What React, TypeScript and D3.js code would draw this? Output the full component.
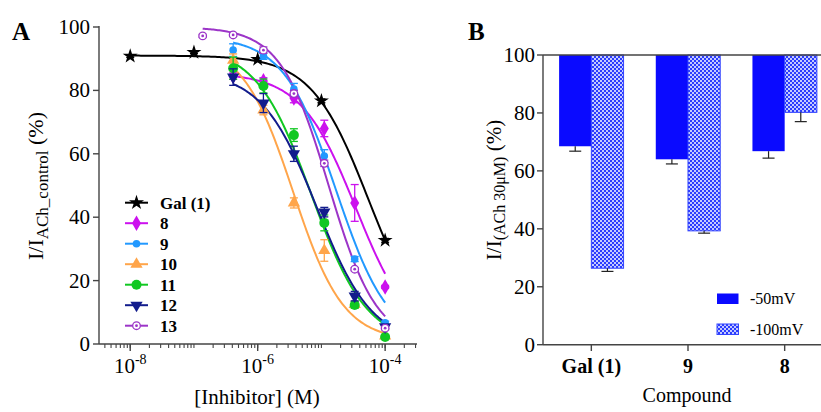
import React from 'react'
import * as d3 from 'd3'

// panel A: concentration-response data (mean and SEM, % of ACh control)
const galConc = [1e-8, 1e-7, 1e-6, 1e-5, 1e-4]
const dilConc = [4.12e-7, 1.23e-6, 3.7e-6, 1.11e-5, 3.33e-5, 1e-4]
const conc13 = [1.37e-7, 4.12e-7, 1.23e-6, 3.7e-6, 1.11e-5, 3.33e-5, 1e-4]

const compounds = ['Gal (1)', '8', '9', '10', '11', '12', '13']
const colors = ['#000000', '#cc11ee', '#2299ff', '#ffa54a', '#11c822', '#121c8c', '#9c35c8']
const symbols = ['star', 'diamond', 'dot', 'triUp', 'circle', 'triDown', 'ring']

const meanGal = [90.8, 92, 89.8, 76.7, 32.7]
const mean8 = [84.5, 83, 77.6, 68, 44.5, 18]
const mean9 = [92.7, 90.8, 80.4, 59.3, 26.8, 6.7]
const mean10 = [89.5, 73.8, 44.5, 29.5, 12.5, 2.5]
const mean11 = [87, 81.4, 65.9, 38.2, 12.3, 2.2]
const mean12 = [84.2, 76, 60, 41.6, 15.1, 5.4]
const mean13 = [97.2, 97.5, 92.7, 79, 57, 23.6, 5]

const semGal = [0.4, 0.4, 0.4, 0.6, 0.6]
const sem8 = [1, 1, 1.5, 2.6, 5.8, 0.5]
const sem9 = [2, 1, 1.8, 2, 0.8, 0.5]
const sem10 = [2, 1.5, 1.6, 3.4, 1, 0.5]
const sem11 = [3.5, 2.2, 2, 2.5, 1, 0.5]
const sem12 = [2.6, 3, 2.4, 1.5, 1.5, 0.5]
const sem13 = [0.5, 0.5, 1, 1, 1, 0.5, 0.5]

// fitted curve parameters: top, bottom, IC50 (M), hill slope
const fitTop = [91, 85.5, 97, 95, 94, 86, 100]
const fitBottom = [0, 0, 0, 1, 0, 0, 0]
const fitIC50 = [5.5e-5, 3.5e-5, 1.7e-5, 3.6e-6, 7e-6, 8.5e-6, 1.3e-5]
const fitHill = [0.97, 1.0, 1.05, 1.1, 1.0, 1.0, 1.15]

const concs = [galConc, dilConc, dilConc, dilConc, dilConc, dilConc, conc13]
const means = [meanGal, mean8, mean9, mean10, mean11, mean12, mean13]
const sems = [semGal, sem8, sem9, sem10, sem11, sem12, sem13]

const xTicksA = [1e-8, 1e-6, 1e-4]
const xTickExp = ['-8', '-6', '-4']
const yTicks = [0, 20, 40, 60, 80, 100]

// panel B: bars hanging from 100 %
const categoriesB = ['Gal (1)', '9', '8']
const seriesB = ['-50mV', '-100mV']
const value50 = [68.5, 64, 66.8]
const value100 = [26.4, 39.3, 80.2]
const err50 = [1.7, 1.6, 2.4]
const err100 = [1.1, 0.8, 3.2]

const font = '"Liberation Serif", "Times New Roman", serif'
const axisColor = '#444'

function Marker({ type, x, y, color }) {
  if (type === 'circle') return <circle cx={x} cy={y} r={5} fill={color} />
  if (type === 'dot') return <circle cx={x} cy={y} r={3.8} fill={color} />
  if (type === 'ring')
    return (
      <g>
        <circle cx={x} cy={y} r={3.8} fill="#fff" stroke={color} strokeWidth={1.3} />
        <circle cx={x} cy={y} r={1.4} fill={color} />
      </g>
    )
  let sym = d3.symbolStar
  let size = 70
  let rot = 0
  if (type === 'diamond') { sym = d3.symbolDiamond; size = 70 }
  if (type === 'triUp') { sym = d3.symbolTriangle; size = 65 }
  if (type === 'triDown') { sym = d3.symbolTriangle; size = 65; rot = 180 }
  const d = d3.symbol().type(sym).size(size)()
  return <path d={d} fill={color} transform={`translate(${x},${y}) rotate(${rot})`} />
}

function PanelA() {
  const x = d3.scaleLog().domain([Math.pow(10, -8.49), Math.pow(10, -3.5)]).range([99, 417])
  const y = d3.scaleLinear().domain([0, 100]).range([344, 27])

  const line = d3.line().x(d => x(d[0])).y(d => y(d[1]))

  const minorTicks = []
  for (let e = -9; e <= -4; e++) {
    for (let m = 1; m < 10; m++) {
      const v = m * Math.pow(10, e)
      if (v >= x.domain()[0] && v <= x.domain()[1]) minorTicks.push(v)
    }
  }

  const curves = compounds.map((c, i) => {
    const lo = Math.log10(concs[i][0])
    const hi = Math.log10(concs[i][concs[i].length - 1])
    const pts = d3.range(0, 121).map(k => {
      const c0 = Math.pow(10, lo + (hi - lo) * k / 120)
      const v = fitBottom[i] + (fitTop[i] - fitBottom[i]) / (1 + Math.pow(c0 / fitIC50[i], fitHill[i]))
      return [c0, v]
    })
    return <path key={c} d={line(pts)} fill="none" stroke={colors[i]} strokeWidth={2} />
  })

  return (
    <g>
      <text x={12} y={40} fontSize={25} fontWeight="bold">A</text>

      {/* axes */}
      <line x1={99} x2={99} y1={26} y2={344} stroke={axisColor} strokeWidth={1.4} />
      <line x1={99} x2={417} y1={344} y2={344} stroke={axisColor} strokeWidth={1.4} />
      {yTicks.map(t => (
        <g key={t}>
          <line x1={93} x2={99} y1={y(t)} y2={y(t)} stroke={axisColor} strokeWidth={1.4} />
          <text x={90} y={y(t) + 7} fontSize={21} textAnchor="end">{t}</text>
        </g>
      ))}
      {minorTicks.map((t, i) => (
        <line key={i} x1={x(t)} x2={x(t)} y1={344} y2={348} stroke={axisColor} strokeWidth={1.1} />
      ))}
      {xTicksA.map((t, i) => (
        <g key={t}>
          <line x1={x(t)} x2={x(t)} y1={344} y2={351} stroke={axisColor} strokeWidth={1.4} />
          <text x={x(t)} y={373} fontSize={21} textAnchor="middle">
            10<tspan fontSize={14} dy={-9}>{xTickExp[i]}</tspan>
          </text>
        </g>
      ))}
      <text x={257} y={404} fontSize={21} textAnchor="middle">[Inhibitor] (M)</text>
      <text transform="translate(43,186) rotate(-90)" fontSize={22} textAnchor="middle">
        I/I<tspan fontSize={17} dy={5}>ACh_control</tspan><tspan dy={-5}> (%)</tspan>
      </text>

      {curves}

      {/* error bars and points */}
      {compounds.map((c, i) => (
        <g key={c}>
          {concs[i].map((cc, j) => {
            const px = x(cc)
            const e = sems[i][j]
            return (
              <g key={j}>
                <line x1={px} x2={px} y1={y(means[i][j] + e)} y2={y(means[i][j] - e)} stroke={colors[i]} strokeWidth={1.3} />
                <line x1={px - 4} x2={px + 4} y1={y(means[i][j] + e)} y2={y(means[i][j] + e)} stroke={colors[i]} strokeWidth={1.3} />
                <line x1={px - 4} x2={px + 4} y1={y(means[i][j] - e)} y2={y(means[i][j] - e)} stroke={colors[i]} strokeWidth={1.3} />
                <Marker type={symbols[i]} x={px} y={y(means[i][j])} color={colors[i]} />
              </g>
            )
          })}
        </g>
      ))}

      {/* legend */}
      {compounds.map((c, i) => {
        const ly = 202.7 + i * 20.5
        return (
          <g key={c}>
            <line x1={125} x2={148} y1={ly} y2={ly} stroke={colors[i]} strokeWidth={2} />
            <Marker type={symbols[i]} x={136.5} y={ly} color={colors[i]} />
            <text x={160} y={ly + 6} fontSize={17} fontWeight="bold">{c}</text>
          </g>
        )
      })}
    </g>
  )
}

function PanelB() {
  const x = d3.scaleBand().domain(categoriesB).range([543, 833]).padding(0)
  const xs = d3.scaleBand().domain(seriesB).range([0, x.bandwidth()]).paddingInner(0).paddingOuter(0.5)
  const y = d3.scaleLinear().domain([0, 100]).range([344.7, 55])
  const vals = [value50, value100]
  const errs = [err50, err100]
  const fills = ['#0a0aff', 'url(#checker)']

  return (
    <g>
      <defs>
        <pattern id="checker" width={4} height={4} patternUnits="userSpaceOnUse">
          <rect width={4} height={4} fill="#2b3cff" />
          <rect width={2} height={2} fill="#c4caff" />
          <rect x={2} y={2} width={2} height={2} fill="#c4caff" />
        </pattern>
      </defs>
      <text x={468} y={40} fontSize={25} fontWeight="bold">B</text>

      {categoriesB.map((c, i) => (
        <g key={c}>
          {seriesB.map((s, k) => {
            const bx = x(c) + xs(s)
            const v = vals[k][i]
            const ey = y(v - errs[k][i])
            const cx = bx + xs.bandwidth() / 2
            return (
              <g key={s}>
                <rect x={bx} y={y(100)} width={xs.bandwidth()} height={y(v) - y(100)} fill={fills[k]} stroke="#3344ff" strokeWidth={k ? 1 : 0} />
                <line x1={cx} x2={cx} y1={y(v)} y2={ey} stroke="#222" strokeWidth={1.2} />
                <line x1={cx - 6} x2={cx + 6} y1={ey} y2={ey} stroke="#222" strokeWidth={1.2} />
              </g>
            )
          })}
        </g>
      ))}

      <line x1={543} x2={543} y1={55} y2={345} stroke={axisColor} strokeWidth={1.4} />
      <line x1={543} x2={821} y1={55} y2={55} stroke={axisColor} strokeWidth={1.4} />
      <line x1={543} x2={821} y1={344.7} y2={344.7} stroke={axisColor} strokeWidth={1.4} />
      {yTicks.map(t => (
        <g key={t}>
          <line x1={537} x2={543} y1={y(t)} y2={y(t)} stroke={axisColor} strokeWidth={1.4} />
          <text x={535} y={y(t) + 7} fontSize={21} textAnchor="end">{t}</text>
        </g>
      ))}
      {categoriesB.map(c => (
        <g key={c}>
          <line x1={x(c) + x.bandwidth() / 2} x2={x(c) + x.bandwidth() / 2} y1={344.7} y2={351} stroke={axisColor} strokeWidth={1.4} />
          <text x={x(c) + x.bandwidth() / 2} y={373} fontSize={20} fontWeight="bold" textAnchor="middle">{c}</text>
        </g>
      ))}
      <text x={687} y={402} fontSize={20} textAnchor="middle">Compound</text>
      <text transform="translate(501,190) rotate(-90)" fontSize={21} textAnchor="middle">
        I/I<tspan fontSize={16} dy={4}>(ACh 30μM)</tspan><tspan dy={-4}> (%)</tspan>
      </text>

      {seriesB.map((s, k) => (
        <g key={s}>
          <rect x={717} y={293.5 + k * 30.5} width={21.5} height={10.5} fill={fills[k]} stroke="#3344ff" strokeWidth={k ? 1 : 0} />
          <text x={750} y={304 + k * 30.5} fontSize={16}>{s}</text>
        </g>
      ))}
    </g>
  )
}

export default function App() {
  return (
    <svg width={821} height={412} style={{ position: 'absolute', left: 0, top: 0, background: '#fff', fontFamily: font }}>
      <rect width={821} height={412} fill="#fff" />
      <PanelA />
      <PanelB />
    </svg>
  )
}
